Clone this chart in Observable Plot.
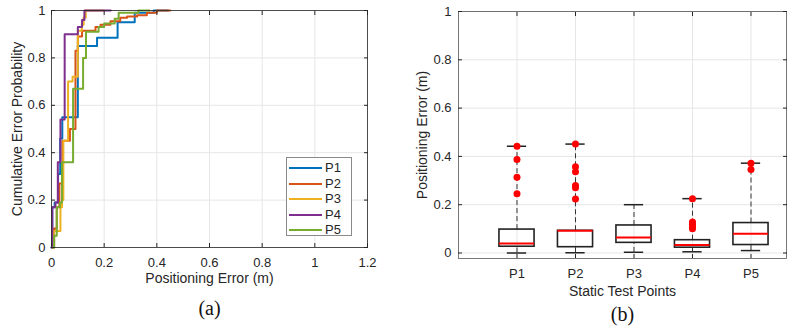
<!DOCTYPE html>
<html>
<head>
<meta charset="utf-8">
<script src="https://cdn.jsdelivr.net/npm/d3@7"></script>
<script src="https://cdn.jsdelivr.net/npm/@observablehq/plot@0.6"></script>
<style>
  body { margin: 0; background: #fff; }
  #wrap { position: relative; width: 797px; height: 335px; font-family: "Liberation Sans", Arial, sans-serif; color: #262626; }
  .panel { position: absolute; top: 0; }
  .legend { position: absolute; left: 286px; top: 157px; width: 66px; height: 79px; background: #fff; border: 1px solid #8a8a8a; box-sizing: border-box; font-size: 13px; }
  .legend .row { position: absolute; left: 2px; height: 14px; display: flex; align-items: center; }
  .legend .row span { margin-left: 3px; line-height: 14px; }
</style>
</head>
<body>
<div id="wrap"></div>
<script>
// Static test points
const series = ["P1", "P2", "P3", "P4", "P5"];
const colors = ["#0072BD", "#D95319", "#EDB120", "#7E2F8E", "#77AC30"];

// Empirical CDF of the positioning error (m) at each test point: error level and cumulative probability
const p1Err  = [0, 0.003, 0.012, 0.025, 0.033, 0.041, 0.10, 0.173, 0.251, 0.316, 0.388, 0.442];
const p1Prob = [0, 0.17, 0.19, 0.31, 0.46, 0.55, 0.85, 0.885, 0.95, 0.99, 1.0, 1.0];
const p2Err  = [0.005, 0.01, 0.02, 0.03, 0.042, 0.07, 0.091, 0.1, 0.116, 0.167, 0.186, 0.224, 0.261, 0.287, 0.325, 0.362, 0.4, 0.451];
const p2Prob = [0, 0.08, 0.17, 0.27, 0.45, 0.50, 0.83, 0.89, 0.915, 0.93, 0.94, 0.955, 0.969, 0.975, 0.98, 0.99, 1.0, 1.0];
const p3Err  = [0.005, 0.009, 0.034, 0.04, 0.045, 0.063, 0.08, 0.1, 0.115, 0.122, 0.13, 0.2];
const p3Prob = [0, 0.07, 0.17, 0.2, 0.45, 0.70, 0.72, 0.915, 0.94, 0.97, 1.0, 1.0];
const p4Err  = [0, 0.003, 0.015, 0.024, 0.034, 0.05, 0.10, 0.116, 0.125, 0.225];
const p4Prob = [0, 0.17, 0.19, 0.36, 0.54, 0.90, 0.93, 0.96, 1.0, 1.0];
const p5Err  = [0.005, 0.01, 0.02, 0.032, 0.04, 0.082, 0.12, 0.131, 0.179, 0.2, 0.24, 0.255, 0.33, 0.372];
const p5Prob = [0, 0.05, 0.17, 0.19, 0.36, 0.67, 0.80, 0.91, 0.93, 0.945, 0.965, 0.99, 1.0, 1.0];

// Box plot statistics (m)
const lowerWhisker = [0.0, 0.001, 0.003, 0.005, 0.01];
const quartile1    = [0.026, 0.024, 0.042, 0.022, 0.033];
const medians      = [0.039, 0.092, 0.064, 0.033, 0.080];
const quartile3    = [0.097, 0.092, 0.114, 0.053, 0.124];
const upperWhisker = [0.442, 0.451, 0.2, 0.225, 0.372];
const p1Outliers = [0.442, 0.3875, 0.314, 0.245];
const p2Outliers = [0.451, 0.357, 0.336, 0.28, 0.27, 0.224];
const p3Outliers = [];
const p4Outliers = [0.225, 0.128, 0.119, 0.11, 0.10];
const p5Outliers = [0.372, 0.346];

// Axis ticks
const errTicks  = [0, 0.2, 0.4, 0.6, 0.8, 1, 1.2];
const probTicks = [0, 0.2, 0.4, 0.6, 0.8, 1];

const fmt = d3.format("~g");
const font = '"Liberation Sans", Arial, sans-serif';
const serif = '"Liberation Serif", "Times New Roman", serif';
const ink = "#262626";
const gridColor = "#e6e6e6";

const cdfErr = [p1Err, p2Err, p3Err, p4Err, p5Err];
const cdfProb = [p1Prob, p2Prob, p3Prob, p4Prob, p5Prob];
const cdfRows = series.flatMap((s, i) => cdfErr[i].map((e, j) => ({series: s, err: e, prob: cdfProb[i][j]})));

const outliers = [p1Outliers, p2Outliers, p3Outliers, p4Outliers, p5Outliers];
const boxRows = series.map((s, i) => ({
  series: s, pos: i + 1,
  lo: lowerWhisker[i], q1: quartile1[i], med: medians[i], q3: quartile3[i], hi: upperWhisker[i]
}));
const outlierRows = series.flatMap((s, i) => outliers[i].map(v => ({series: s, pos: i + 1, v})));
const boxHalf = 0.3, capHalf = 0.165;

const wrap = document.getElementById("wrap");

// (a) cumulative error distribution
const cdfChart = Plot.plot({
  width: 400, height: 335,
  marginLeft: 51, marginRight: 33, marginTop: 10, marginBottom: 88,
  style: {fontFamily: font, fontSize: "13px", color: ink, background: "transparent", overflow: "visible"},
  x: {domain: [0, 1.2]},
  y: {domain: [0, 1]},
  color: {domain: series, range: colors},
  marks: [
    Plot.gridX(errTicks, {stroke: gridColor, strokeOpacity: 1}),
    Plot.gridY(probTicks, {stroke: gridColor, strokeOpacity: 1}),
    Plot.line(cdfRows, {x: "err", y: "prob", z: "series", stroke: "series", curve: "step-after", strokeWidth: 2}),
    Plot.frame({stroke: ink, strokeWidth: 0.8}),
    Plot.axisX(errTicks, {tickSize: -4, tickPadding: 14, tickFormat: fmt, label: null, stroke: ink}),
    Plot.axisX(errTicks, {anchor: "top", tickSize: -4, tickFormat: () => "", label: null, stroke: ink}),
    Plot.axisY(probTicks, {tickSize: -4, tickPadding: 10, tickFormat: fmt, label: null, stroke: ink}),
    Plot.axisY(probTicks, {anchor: "right", tickSize: -4, tickFormat: () => "", label: null, stroke: ink}),
    Plot.text(["Positioning Error (m)"], {text: d => d, frameAnchor: "bottom", textAnchor: "middle", dy: 35, fontSize: 14, fill: ink}),
    Plot.text(["Cumulative Error Probability"], {text: d => d, frameAnchor: "left", textAnchor: "middle", dx: -34, rotate: -90, fontSize: 14, fill: ink}),
    Plot.text(["(a)"], {text: d => d, frameAnchor: "bottom", textAnchor: "middle", dy: 67, fontSize: 20, fontFamily: serif, fill: "#111"})
  ]
});
cdfChart.classList.add("panel");
cdfChart.style.left = "0px";
wrap.appendChild(cdfChart);

// Legend for the CDF panel
const legend = document.createElement("div");
legend.className = "legend";
series.forEach((s, i) => {
  const row = document.createElement("div");
  row.className = "row";
  row.style.top = (3 + i * 15.5) + "px";
  row.innerHTML = `<svg width="33" height="4"><line x1="0" x2="33" y1="2" y2="2" stroke="${colors[i]}" stroke-width="2"/></svg><span>${s}</span>`;
  legend.appendChild(row);
});
wrap.appendChild(legend);

// (b) box plots per test point
const boxChart = Plot.plot({
  width: 397, height: 335,
  marginLeft: 58, marginRight: 11, marginTop: 11, marginBottom: 77,
  style: {fontFamily: font, fontSize: "13px", color: ink, background: "transparent", overflow: "visible"},
  x: {domain: [0, 5.607]},
  y: {domain: [-0.0228, 1]},
  marks: [
    Plot.gridX(boxRows.map(d => d.pos), {stroke: gridColor, strokeOpacity: 1}),
    Plot.gridY(probTicks, {stroke: gridColor, strokeOpacity: 1}),
    Plot.ruleX(boxRows, {x: "pos", y1: "q3", y2: "hi", stroke: "#333", strokeDasharray: "5,3", strokeWidth: 1}),
    Plot.ruleX(boxRows, {x: "pos", y1: "lo", y2: "q1", stroke: "#333", strokeDasharray: "5,3", strokeWidth: 1}),
    Plot.ruleY(boxRows, {y: "hi", x1: d => d.pos - capHalf, x2: d => d.pos + capHalf, stroke: "#222", strokeWidth: 1.5}),
    Plot.ruleY(boxRows, {y: "lo", x1: d => d.pos - capHalf, x2: d => d.pos + capHalf, stroke: "#222", strokeWidth: 1.5}),
    Plot.rect(boxRows, {x1: d => d.pos - boxHalf, x2: d => d.pos + boxHalf, y1: "q1", y2: "q3", stroke: "#222", strokeWidth: 1.6, fill: "none"}),
    Plot.ruleY(boxRows, {y: "med", x1: d => d.pos - boxHalf, x2: d => d.pos + boxHalf, stroke: "#ff0000", strokeWidth: 2}),
    Plot.dot(outlierRows, {x: "pos", y: "v", r: 3.5, fill: "#ff0000", stroke: "none"}),
    Plot.frame({stroke: "#555", strokeWidth: 0.8}),
    Plot.axisX(boxRows.map(d => d.pos), {tickSize: -4, tickPadding: 14, tickFormat: p => series[p - 1], label: null, stroke: ink}),
    Plot.axisX(boxRows.map(d => d.pos), {anchor: "top", tickSize: -4, tickFormat: () => "", label: null, stroke: ink}),
    Plot.axisY(probTicks, {tickSize: -4, tickPadding: 11, tickFormat: fmt, label: null, stroke: ink}),
    Plot.axisY(probTicks, {anchor: "right", tickSize: -4, tickFormat: () => "", label: null, stroke: ink}),
    Plot.text(["Static Test Points"], {text: d => d, frameAnchor: "bottom", textAnchor: "middle", dy: 37, fontSize: 14, fill: ink}),
    Plot.text(["Positioning Error (m)"], {text: d => d, frameAnchor: "left", textAnchor: "middle", dx: -36, rotate: -90, fontSize: 14, fill: ink}),
    Plot.text(["(b)"], {text: d => d, frameAnchor: "bottom", textAnchor: "middle", dy: 62, fontSize: 20, fontFamily: serif, fill: "#111"})
  ]
});
boxChart.classList.add("panel");
boxChart.style.left = "400px";
wrap.appendChild(boxChart);
</script>
</body>
</html>
